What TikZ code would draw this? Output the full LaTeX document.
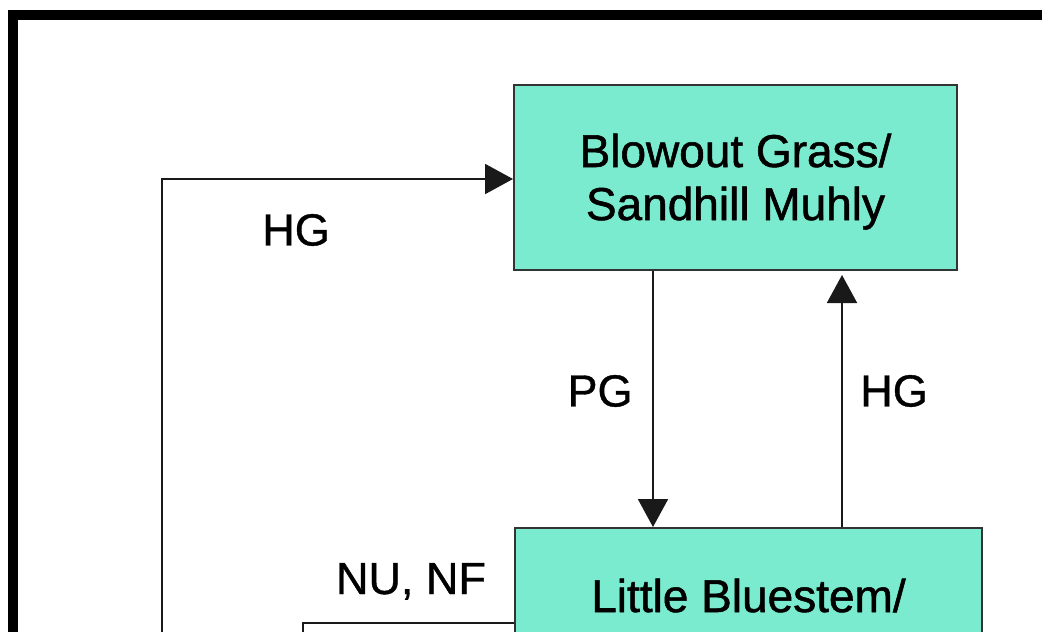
\documentclass[tikz,border=0pt]{standalone}
\usepackage{fontspec}
\setmainfont{Liberation Sans}
\newfontfamily\boxfont[FakeBold=1.2]{Liberation Sans}
\newfontfamily\lblfont[FakeBold=0.8]{Liberation Sans}
\usetikzlibrary{arrows.meta}
\definecolor{boxfill}{RGB}{122,235,206}
\tikzset{
  stbox/.style={draw=black!80, line width=2pt, fill=boxfill, inner sep=0pt},
  boxtext/.style={font=\boxfont\fontsize{46}{53}\selectfont, align=center, inner sep=0pt},
  lbl/.style={font=\lblfont\fontsize{45}{52}\selectfont, inner sep=0pt},
  conn/.style={draw=black!90, line width=2pt},
  arr/.style={conn, -{Triangle[length=28pt, width=30pt]}},
}
\begin{document}
\begin{tikzpicture}[x=1pt, y=1pt]
\useasboundingbox (0,0) rectangle (1042,-632);
\clip (0,0) rectangle (1042,-632);
\fill[white] (0,0) rectangle (1042,-632);
% outer frame
\draw[line width=10pt] (13,-700) -- (13,-15) -- (1100,-15);
% boxes
\node[stbox, minimum width=443pt, minimum height=185pt] (top) at (735.5,-177.5) {};
\node[boxtext, anchor=base] (toptext1) at (735.5,-167) {Blowout Grass/};
\node[boxtext, anchor=base] (toptext2) at (735.5,-220) {Sandhill Muhly};
\node[stbox, minimum width=467pt, minimum height=200pt] (bot) at (748.5,-628) {};
\node[boxtext, anchor=base] (bottext) at (748.5,-612) {Little Bluestem/};
% labels
\node[lbl] (hgleft) at (296,-230) {HG};
\node[lbl] (pg) at (600,-391) {PG};
\node[lbl] (hgright) at (894,-391) {HG};
\node[lbl, anchor=base] (nunf) at (411,-594) {NU, NF};
% connectors
\draw[arr] ([xshift=-82.5pt]top.south) -- ([xshift=-82.5pt]top.south |- bot.north);
\draw[arr, shorten >=4pt] ([xshift=106.5pt]top.south |- bot.north) -- ([xshift=106.5pt]top.south);
\coordinate (loopstart) at (162,-660);
\draw[arr] (loopstart) |- ([yshift=-1.5pt]top.west);
\coordinate (nuend) at (303,-660);
\draw[conn] ([yshift=-96pt]bot.north west) -| (nuend);
\end{tikzpicture}
\end{document}
